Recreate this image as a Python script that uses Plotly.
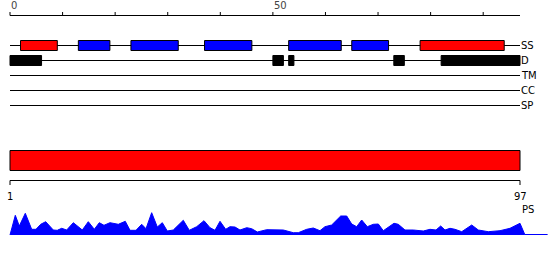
import plotly.graph_objects as go

# ---------------- data ----------------
seq_len = 97
top_ticks = [0, 10, 20, 30, 40, 50, 60, 70, 80, 90]
top_tick_labels = {0: "0", 50: "50"}

# secondary structure: (start, end, type)  H = helix (red), E = strand (blue)
ss_start = [2, 13, 23, 37, 53, 65, 78]
ss_end = [9, 19, 32, 46, 63, 72, 94]
ss_type = ["H", "E", "E", "E", "E", "E", "H"]

# disorder regions
dis_start = [0, 50, 53, 73, 82]
dis_end = [6, 52, 54, 75, 97]

track_names = ["SS", "D", "TM", "CC", "SP"]

# domain bar
dom_start = [1]
dom_end = [97]
dom_axis_labels = [1, 97]

# PS profile (position, score)
ps_pos = [1.0, 2.0, 2.75, 3.88, 5.08, 5.89, 6.78, 7.72, 9.15, 9.9, 10.73, 11.67, 12.92,
          14.61, 15.74, 16.87, 17.81, 18.69, 19.82, 21.39, 22.7, 23.59, 24.72, 25.79,
          26.6, 27.67, 28.73, 29.67, 30.61, 31.74, 33.62, 34.75, 36.14, 37.52, 38.65,
          39.59, 40.53, 41.6, 42.41, 43.35, 44.29, 45.56, 46.49, 47.55, 49.32, 51.2,
          52.45, 54.33, 55.27, 56.85, 58.09, 59.35, 60.29, 61.55, 63.25, 64.38, 65.32,
          66.26, 67.2, 68.26, 69.39, 70.33, 71.27, 73.28, 74.09, 75.35, 76.92, 78.8,
          80.06, 81.19, 82.07, 82.88, 83.82, 84.76, 86.03, 87.91, 89.15, 91.03, 93.24,
          95.12, 97.0, 97.94]
ps_val = [0.0, 19.7, 9.0, 21.7, 5.7, 5.7, 10.7, 13.3, 5.0, 4.7, 6.7, 5.0, 12.3,
          5.0, 13.3, 5.7, 12.3, 9.7, 12.3, 10.7, 13.7, 4.7, 4.7, 10.7,
          6.3, 22.3, 8.0, 12.3, 4.0, 5.0, 14.7, 4.7, 8.3, 14.3, 7.3,
          4.7, 13.7, 5.7, 8.3, 8.0, 5.0, 7.3, 6.3, 3.0, 5.3, 4.7,
          5.0, 2.3, 2.3, 5.7, 7.0, 4.3, 8.3, 10.0, 19.0, 19.0, 11.0,
          8.3, 15.0, 8.3, 10.7, 11.0, 4.3, 11.7, 10.7, 5.0, 5.0, 4.0,
          5.7, 5.0, 9.0, 5.0, 6.7, 5.7, 3.3, 10.0, 5.0, 3.3, 4.3,
          6.7, 11.7, 0.0]

# ---------------- layout constants ----------------
W, H = 550, 260
X0, X1 = 10, 520          # pixel extent of sequence
top_scale = (X1 - X0) / seq_len
bot_scale = (X1 - X0) / (dom_end[0] - dom_start[0])
FONT = dict(family="DejaVu Sans", size=10, color="#000000")
TOP_FONT = dict(family="DejaVu Sans", size=10, color="#444444")

track_y = [45.5, 60.5, 75.5, 90.5, 105.5]
ps_base = 235

fig = go.Figure()

shapes = []
annotations = []

# top ruler
shapes.append(dict(type="line", xref="x", yref="y", x0=0, x1=seq_len, y0=15.5, y1=15.5,
                   line=dict(color="black", width=1)))
for t in top_ticks:
    shapes.append(dict(type="line", xref="x", yref="y", x0=t, x1=t, y0=15.5, y1=12,
                       line=dict(color="black", width=1)))
    if t in top_tick_labels:
        annotations.append(dict(x=t, y=0, xref="x", yref="y", text=top_tick_labels[t],
                                showarrow=False, xanchor="left", yanchor="top",
                                xshift=-1, yshift=2, font=TOP_FONT))

# track baselines and labels
for name, ty in zip(track_names, track_y):
    shapes.append(dict(type="line", xref="x", yref="y", x0=0, x1=seq_len, y0=ty, y1=ty,
                       line=dict(color="black", width=1), layer="below"))
    annotations.append(dict(x=seq_len, y=ty, xref="x", yref="y", text=name, showarrow=False,
                            xanchor="left", yanchor="middle", xshift=-1, font=FONT))

# secondary structure boxes
ss_color = {"H": "#ff0000", "E": "#0000ff"}
for s, e, t in zip(ss_start, ss_end, ss_type):
    shapes.append(dict(type="rect", xref="x", yref="y", x0=s, x1=e,
                       y0=track_y[0] - 5, y1=track_y[0] + 5,
                       fillcolor=ss_color[t], line=dict(color="black", width=1)))

# disorder boxes
for s, e in zip(dis_start, dis_end):
    shapes.append(dict(type="rect", xref="x", yref="y", x0=s, x1=e,
                       y0=track_y[1] - 5, y1=track_y[1] + 5,
                       fillcolor="black", line=dict(color="black", width=1)))

# domain bar
for s, e in zip(dom_start, dom_end):
    shapes.append(dict(type="rect", xref="x2", yref="y", x0=s, x1=e, y0=150.5, y1=170.5,
                       fillcolor="#ff0000", line=dict(color="black", width=1)))

# bottom ruler
shapes.append(dict(type="line", xref="x2", yref="y", x0=dom_axis_labels[0], x1=dom_axis_labels[-1],
                   y0=180.5, y1=180.5, line=dict(color="black", width=1)))
for t in dom_axis_labels:
    shapes.append(dict(type="line", xref="x2", yref="y", x0=t, x1=t, y0=180.5, y1=185,
                       line=dict(color="black", width=1)))
    annotations.append(dict(x=t, y=196, xref="x2", yref="y", text=str(t), showarrow=False,
                            xanchor="center", yanchor="middle", font=FONT))

# PS area
fig.add_trace(go.Scatter(x=ps_pos, y=ps_val, xaxis="x2", yaxis="y3", mode="lines",
                         fill="tozeroy", fillcolor="#0000ff",
                         line=dict(color="#0000ff", width=1), hoverinfo="skip",
                         showlegend=False))
shapes.append(dict(type="line", xref="x2", yref="y", x0=ps_pos[-1], x1=102.2,
                   y0=ps_base - 0.5, y1=ps_base - 0.5, line=dict(color="#0000ff", width=1)))
annotations.append(dict(x=seq_len, y=209.5, xref="x", yref="y", text="PS", showarrow=False,
                        xanchor="left", yanchor="middle", font=FONT))

# dummy trace so axes exist
fig.add_trace(go.Scatter(x=[0], y=[0], mode="markers", marker=dict(opacity=0),
                         hoverinfo="skip", showlegend=False))

fig.update_layout(
    width=W, height=H,
    margin=dict(l=0, r=0, t=0, b=0),
    paper_bgcolor="white", plot_bgcolor="white",
    shapes=shapes, annotations=annotations,
    xaxis=dict(range=[-X0 / top_scale, (W - X0) / top_scale], domain=[0, 1],
               visible=False, fixedrange=True),
    xaxis2=dict(range=[dom_start[0] - X0 / bot_scale, dom_start[0] + (W - X0) / bot_scale],
                domain=[0, 1], overlaying="x", visible=False, fixedrange=True),
    yaxis=dict(range=[H, 0], domain=[0, 1], visible=False, fixedrange=True),
    yaxis3=dict(range=[-(H - ps_base), ps_base], domain=[0, 1], overlaying="y",
                visible=False, fixedrange=True),
    showlegend=False,
)

fig.write_html("out.html")
